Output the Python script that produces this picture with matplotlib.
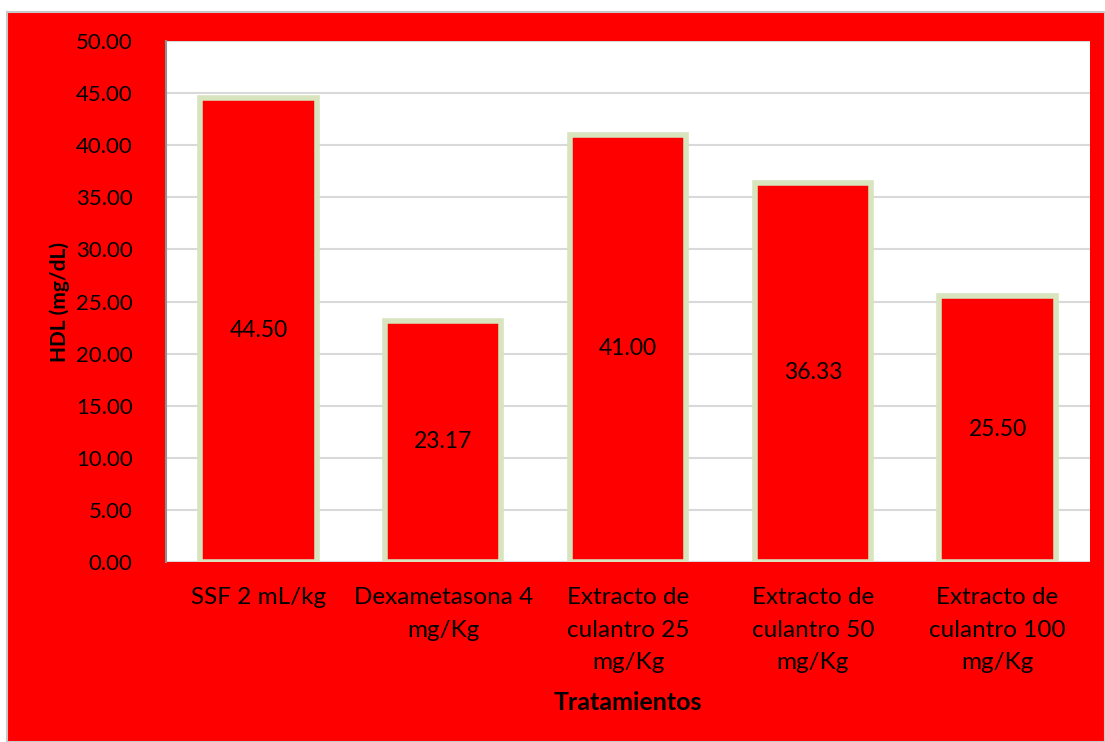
import numpy as np
import matplotlib.pyplot as plt
from matplotlib.patches import Rectangle

# Data
categories = ["SSF 2 mL/kg", "Dexametasona 4\nmg/Kg", "Extracto de\nculantro 25\nmg/Kg",
              "Extracto de\nculantro 50\nmg/Kg", "Extracto de\nculantro 100\nmg/Kg"]
hdl_values = [44.50, 23.17, 41.00, 36.33, 25.50]
y_ticks = [0, 5, 10, 15, 20, 25, 30, 35, 40, 45, 50]

plt.rcParams['font.family'] = ['Lato', 'DejaVu Sans']

W, H = 1105, 742
fig = plt.figure(figsize=(W / 100, H / 100), dpi=100)
fig.patch.set_facecolor('white')

# red chart area with thin grey border
fig.patches.append(Rectangle((7 / W, 0), 1 - 7 / W, 1 - 12 / H, transform=fig.transFigure,
                             facecolor='#ff0000', edgecolor='#c8c8c8', linewidth=1.5, zorder=-10))

ax = fig.add_axes([166 / W, 1 - 562 / H, (1090 - 166) / W, (562 - 41) / H])
ax.set_facecolor('white')

x = np.arange(len(categories))
bars = ax.bar(x, hdl_values, width=0.63, color='#ff0000', edgecolor='#d7e4bd', linewidth=4, zorder=3)

for xi, v in zip(x, hdl_values):
    ax.text(xi, v / 2, f"{v:.2f}", ha='center', va='center', fontsize=16.5, color='black', zorder=4)

ax.set_xlim(-0.5, len(categories) - 0.5)
ax.set_ylim(0, 50)
ax.set_yticks(y_ticks)
ax.set_yticklabels([f"{t:.2f}" for t in y_ticks], fontsize=16)
ax.set_xticks(x)
ax.set_xticklabels(categories, fontsize=17.5, linespacing=1.68)
ax.tick_params(axis='x', length=0, pad=18)
ax.tick_params(axis='y', length=0, pad=24)

ax.yaxis.grid(True, color='#d9d9d9', linewidth=1.5, zorder=0)
ax.set_axisbelow(True)
for side in ['top', 'right', 'bottom']:
    ax.spines[side].set_visible(False)
ax.spines['left'].set_color('#909090')
ax.spines['left'].set_linewidth(1.5)

ax.set_ylabel("HDL (mg/dL)", fontsize=15, fontweight='bold', labelpad=4)
ax.set_xlabel("Tratamientos", fontsize=18, fontweight='bold', labelpad=13)

fig.savefig("out.png", dpi=100, facecolor=fig.get_facecolor())
